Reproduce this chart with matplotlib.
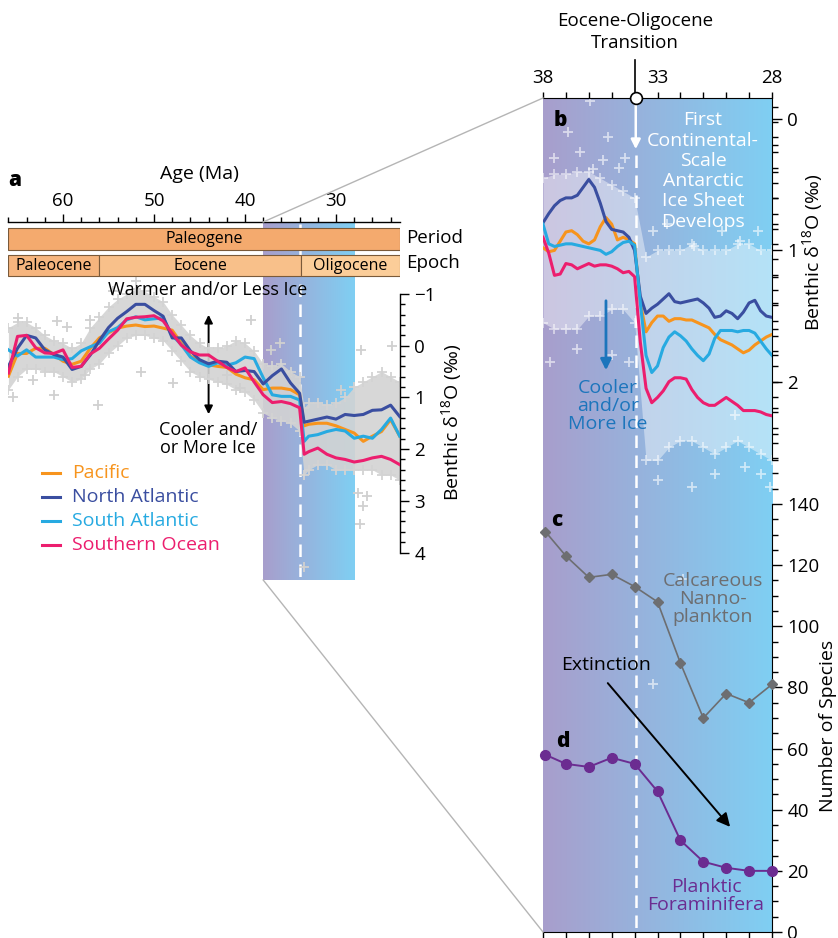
import numpy as np
import matplotlib
matplotlib.use("Agg")
import matplotlib.pyplot as plt
from matplotlib.colors import LinearSegmentedColormap
from matplotlib.patches import Rectangle
from matplotlib.lines import Line2D
from matplotlib.ticker import MultipleLocator, FixedLocator

plt.rcParams['font.family'] = ['Open Sans', 'DejaVu Sans']
plt.rcParams['mathtext.fontset'] = 'custom'
plt.rcParams['mathtext.rm'] = 'Open Sans'
plt.rcParams['mathtext.it'] = 'Open Sans:italic'

# ---------------- data ----------------
# Panel a: Cenozoic (66-23 Ma) benthic d18O, smoothed per basin
ages_a = [66, 65, 64, 63, 62, 61, 60, 59, 58, 57, 56, 55, 54, 53, 52, 51, 50, 49, 48, 47,
          46, 45, 44, 43, 42, 41, 40, 39, 38, 37, 36, 35, 34, 33.5, 33, 32, 31, 30, 29, 28,
          27, 26, 25, 24, 23]
pacific_a = [0.59, 0.15, 0.15, 0.05, 0.05, 0.17, 0.30, 0.36, 0.30, 0.05, -0.15, -0.25, -0.34, -0.38,
             -0.40, -0.37, -0.38, -0.34, -0.30, -0.05, 0.20, 0.30, 0.37, 0.40, 0.42, 0.55, 0.62, 0.66,
             0.85, 0.82, 0.82, 0.85, 0.95, 1.55, 1.52, 1.50, 1.50, 1.55, 1.62, 1.69, 1.85, 1.75, 1.66,
             1.43, 1.75]
natl_a = [0.40, 0.05, -0.20, -0.15, 0.08, 0.17, 0.22, 0.46, 0.40, 0.18, -0.10, -0.35, -0.53, -0.66,
          -0.80, -0.80, -0.68, -0.57, -0.15, -0.15, 0.10, 0.27, 0.35, 0.30, 0.32, 0.50, 0.48, 0.50,
          0.74, 0.58, 0.45, 0.72, 0.92, 1.48, 1.46, 1.42, 1.38, 1.42, 1.33, 1.35, 1.33, 1.25, 1.24,
          1.15, 1.37]
satl_a = [0.08, 0.20, 0.08, 0.22, 0.22, 0.22, 0.27, 0.25, 0.10, 0.02, -0.05, -0.27, -0.35, -0.50,
          -0.56, -0.50, -0.52, -0.54, -0.20, -0.02, 0.22, 0.33, 0.40, 0.33, 0.38, 0.33, 0.22, 0.25,
          0.62, 0.95, 0.98, 0.98, 1.05, 1.85, 1.75, 1.72, 1.66, 1.62, 1.65, 1.79, 1.75, 1.79, 1.62,
          1.40, 1.75]
so_a = [0.53, -0.18, -0.20, 0.04, 0.14, 0.15, 0.08, 0.42, 0.40, 0.16, 0.05, -0.13, -0.30, -0.52,
        -0.55, -0.56, -0.58, -0.48, -0.24, -0.01, 0.12, 0.18, 0.18, 0.30, 0.42, 0.50, 0.43, 0.70,
        0.95, 1.10, 1.08, 1.12, 1.20, 2.10, 2.05, 1.98, 2.10, 2.17, 2.20, 2.25, 2.22, 2.17, 2.14,
        2.20, 2.30]
# envelope of the individual measurements (grey crosses)
cloud_top_a = [-0.35, -0.45, -0.45, -0.35, -0.20, -0.10, -0.05, 0.05, -0.05, -0.35, -0.55, -0.75,
               -0.90, -1.00, -1.10, -1.05, -0.95, -0.85, -0.60, -0.40, -0.20, -0.05, 0.05, 0.05,
               0.00, -0.10, -0.05, 0.10, 0.35, 0.40, 0.35, 0.50, 0.60, 1.20, 1.10, 1.10, 1.15,
               1.10, 1.00, 0.80, 0.70, 0.60, 0.50, 0.60, 0.70]
cloud_bot_a = [0.85, 0.60, 0.45, 0.45, 0.50, 0.50, 0.60, 0.70, 0.65, 0.45, 0.35, 0.15, 0.00, -0.15,
               -0.20, -0.20, -0.15, -0.10, 0.10, 0.30, 0.50, 0.60, 0.65, 0.70, 0.75, 0.85, 0.90,
               1.05, 1.30, 1.40, 1.45, 1.50, 1.65, 2.50, 2.40, 2.30, 2.30, 2.40, 2.40, 2.40, 2.40,
               2.40, 2.50, 2.50, 2.60]
outlier_age_a = [56.1, 60.7, 59.6, 63.3, 64.9, 57.0, 57.6, 51.4, 47.9, 39.3, 42.0, 40.6, 35.1, 37.1,
                 36.2, 27.2, 23.9, 33.5, 27.6, 27.0, 27.4, 26.6, 65.5, 61.0, 54.5, 52.0, 29.4]
outlier_d18o_a = [1.14, -0.47, -0.37, 0.66, -0.54, -0.50, 0.56, 0.50, 0.72, -0.50, 0.56, 0.82, 0.57,
                  0.08, -0.05, 0.08, 0.01, 4.28, 2.85, 3.10, 3.45, 2.90, 1.00, 0.95, -1.05, -1.25, 0.85]

# Panel b: 38-28 Ma detail
ages_b = [38.0, 37.75, 37.5, 37.25, 37.0, 36.75, 36.5, 36.25, 36.0, 35.75, 35.5, 35.25, 35.0, 34.75,
          34.5, 34.25, 34.0, 33.75, 33.5, 33.25, 33.0, 32.75, 32.5, 32.25, 32.0, 31.75, 31.5,
          31.25, 31.0, 30.75, 30.5, 30.25, 30.0, 29.75, 29.5, 29.25, 29.0, 28.75, 28.5, 28.25, 28.0]
pacific_b = [0.98, 1.01, 1.00, 0.93, 0.86, 0.85, 0.88, 0.93, 0.95, 0.92, 0.82, 0.75, 0.80, 0.92,
             0.90, 0.92, 0.95, 1.40, 1.62, 1.55, 1.50, 1.50, 1.54, 1.52, 1.52, 1.53, 1.53, 1.55,
             1.57, 1.59, 1.64, 1.68, 1.70, 1.72, 1.75, 1.78, 1.76, 1.72, 1.69, 1.66, 1.64]
natl_b = [0.79, 0.72, 0.66, 0.62, 0.60, 0.60, 0.58, 0.52, 0.46, 0.52, 0.64, 0.78, 0.84, 0.85, 0.86,
          0.90, 1.00, 1.35, 1.48, 1.44, 1.41, 1.37, 1.33, 1.39, 1.40, 1.39, 1.38, 1.37, 1.40, 1.44,
          1.51, 1.50, 1.46, 1.48, 1.52, 1.47, 1.40, 1.38, 1.46, 1.50, 1.51]
satl_b = [0.80, 0.95, 0.97, 0.96, 0.95, 0.95, 0.96, 0.97, 0.98, 0.99, 1.00, 1.03, 1.01, 0.97, 0.94,
          0.93, 0.96, 1.40, 1.80, 1.93, 1.88, 1.74, 1.66, 1.62, 1.65, 1.69, 1.75, 1.80, 1.84, 1.79,
          1.67, 1.61, 1.61, 1.61, 1.62, 1.61, 1.61, 1.63, 1.69, 1.75, 1.80]
so_b = [0.90, 1.02, 1.19, 1.18, 1.10, 1.11, 1.14, 1.12, 1.10, 1.12, 1.11, 1.11, 1.12, 1.14, 1.17,
        1.16, 1.20, 1.70, 2.05, 2.16, 2.12, 2.07, 2.00, 1.97, 1.97, 1.98, 2.06, 2.12, 2.16, 2.18,
        2.18, 2.15, 2.12, 2.15, 2.18, 2.22, 2.22, 2.22, 2.23, 2.25, 2.26]
cloud_age_b = [38.0, 37.5, 37.0, 36.5, 36.0, 35.5, 35.0, 34.5, 34.0, 33.5, 33.0, 32.5, 32.0, 31.5,
               31.0, 30.5, 30.0, 29.5, 29.0, 28.5, 28.0]
cloud_top_b = [0.45, 0.42, 0.42, 0.40, 0.40, 0.45, 0.50, 0.55, 0.60, 1.05, 1.00, 1.00, 1.00, 0.95,
               1.00, 1.00, 1.00, 0.95, 0.95, 1.00, 1.00]
cloud_bot_b = [1.55, 1.60, 1.60, 1.60, 1.50, 1.50, 1.45, 1.45, 1.55, 2.60, 2.60, 2.50, 2.45, 2.45,
               2.50, 2.55, 2.50, 2.45, 2.50, 2.55, 2.60]
outlier_age_b = [36.9, 35.15, 35.4, 34.7, 35.95, 35.8, 33.2, 31.4, 29.4, 37.5, 36.4, 34.4, 32.6,
                 28.6, 37.7, 36.5, 35.0, 34.25, 33.0, 31.5, 30.5, 29.2, 28.5, 28.1, 33.2, 31.9,
                 30.2, 29.6]
outlier_d18o_b = [0.10, 0.14, 0.31, 0.37, -0.14, 0.38, 0.85, 0.97, 0.93, 0.30, 0.25, 0.30, 0.80,
                  0.85, 1.85, 1.75, 1.80, 1.85, 2.75, 2.80, 2.70, 2.65, 2.70, 2.80, 4.30, 3.50,
                  0.85, 2.25]

# Panels c, d: number of species
ages_sp = [37.9, 37, 36, 35, 34, 33, 32, 31, 30, 29, 28]
nannoplankton = [131, 123, 116, 117, 113, 108, 88, 70, 78, 75, 81]
foraminifera = [58, 55, 54, 57, 55, 46, 30, 23, 21, 20, 20]

EOT = 33.95
epoch_names = ['Paleocene', 'Eocene', 'Oligocene']
epoch_bounds = [66, 56, 33.9, 23]

# ---------------- style ----------------
C_PAC = '#f7941d'
C_NA = '#3a4ea0'
C_SA = '#27aae1'
C_SO = '#ec1e6e'
C_NANNO = '#6d6e71'
C_FORAM = '#6b2c91'
C_BLUE = '#1c75bc'
GRAD = LinearSegmentedColormap.from_list('eot', ['#a89ecc', '#7fcff3'])
grad_img = np.linspace(0, 1, 256)[None, :]

W, H = 838, 938
fig = plt.figure(figsize=(W / 100, H / 100), dpi=100)


def fx(px):
    return px / W


def fy(py):
    return 1 - py / H


def ftext(px, py, s, **kw):
    fig.text(fx(px), fy(py), s, **kw)


FS = 13.5

# ---------------- panel a ----------------
ax_l, ax_r, ax_t, ax_b = 8.4, 399.7, 222, 580
axA = fig.add_axes([fx(ax_l), fy(ax_b), (ax_r - ax_l) / W, (ax_b - ax_t) / H])
ya_top = (ax_t - 345.7) / 51.7
ya_bot = (ax_b - 345.7) / 51.7
axA.imshow(grad_img, cmap=GRAD, extent=(38, 28, ya_bot, ya_top), aspect='auto', zorder=0,
           interpolation='bilinear')
axA.set_xlim(66, 23)
axA.set_ylim(ya_bot, ya_top)
axA.patch.set_alpha(0)

# time-scale bars
py2v = lambda py: (py - 345.7) / 51.7
axA.add_patch(Rectangle((23, py2v(228)), 43, py2v(250) - py2v(228), facecolor='#f4aa6e',
                        edgecolor='#7a5a3a', lw=0.8, zorder=5))
axA.text(44.5, py2v(239), 'Paleogene', ha='center', va='center', fontsize=11.5, zorder=6)
ep_cols = ['#f6b57e', '#f8c08a', '#fbcd99']
for i, name in enumerate(epoch_names):
    x0, x1 = epoch_bounds[i], epoch_bounds[i + 1]
    axA.add_patch(Rectangle((x1, py2v(255)), x0 - x1, py2v(276) - py2v(255), facecolor=ep_cols[i],
                            edgecolor='#7a5a3a', lw=0.8, zorder=5))
    axA.text((x0 + x1) / 2, py2v(266), name, ha='center', va='center', fontsize=11.5, zorder=6)

# dashed EOT line
axA.plot([EOT, EOT], [py2v(224), ya_bot], color='white', lw=1.8, ls=(0, (5, 3)), zorder=1)
# warmer/cooler arrow
axA.annotate('', xy=(44, py2v(312)), xytext=(44, py2v(417)),
             arrowprops=dict(arrowstyle='<|-|>', color='black', lw=1.4, mutation_scale=12),
             zorder=1)
# measurement cloud
axA.fill_between(ages_a, cloud_top_a, cloud_bot_a, color='#d3d3d3', alpha=0.9, lw=0, zorder=2)
axA.scatter(ages_a + ages_a, cloud_top_a + cloud_bot_a, marker='+', s=55, color='#d3d3d3',
            lw=1.3, zorder=2)
axA.scatter(outlier_age_a, outlier_d18o_a, marker='+', s=60, color='#d0d0d0', lw=1.3, zorder=2)
for ys, c in [(pacific_a, C_PAC), (satl_a, C_SA), (natl_a, C_NA), (so_a, C_SO)]:
    axA.plot(ages_a, ys, color=c, lw=2.2, zorder=4, solid_joinstyle='round')

for s in ['left', 'bottom']:
    axA.spines[s].set_visible(False)
axA.spines['right'].set_bounds(-1, 4)
axA.spines['top'].set_linewidth(1)
axA.spines['right'].set_linewidth(1)
axA.xaxis.set_ticks_position('top')
axA.set_xticks([60, 50, 40, 30])
axA.xaxis.set_minor_locator(MultipleLocator(2))
axA.tick_params(axis='x', which='major', direction='out', length=6, width=1, labelsize=FS, pad=3)
axA.tick_params(axis='x', which='minor', direction='out', length=3.5, width=1)
axA.yaxis.set_ticks_position('right')
axA.set_yticks([-1, 0, 1, 2, 3, 4])
axA.yaxis.set_minor_locator(FixedLocator(np.round(np.arange(-1, 4.01, 0.2), 2)))
axA.tick_params(axis='y', which='major', direction='out', length=6.5, width=1, labelsize=FS, pad=4)
axA.tick_params(axis='y', which='minor', direction='out', length=3.8, width=1)

# ---------------- panel b / c / d ----------------
bl, br, bt, bb = 543, 772, 98, 932
rect_b = [fx(bl), fy(bb), (br - bl) / W, (bb - bt) / H]
axBg = fig.add_axes(rect_b, label='bg')
axBg.imshow(grad_img, cmap=GRAD, extent=(0, 1, 0, 1), aspect='auto', interpolation='bilinear')
axBg.set_xlim(0, 1)
axBg.set_ylim(0, 1)
axBg.axis('off')

yb_top = (bt - 119.1) / 131.3
yb_bot = (bb - 119.1) / 131.3
axB = fig.add_axes(rect_b, label='benthic', facecolor='none')
axB.set_xlim(38, 28)
axB.set_ylim(yb_bot, yb_top)
axB.fill_between(cloud_age_b, cloud_top_b, cloud_bot_b, color='white', alpha=0.42, lw=0, zorder=1)
axB.scatter(cloud_age_b + cloud_age_b, cloud_top_b + cloud_bot_b, marker='+', s=55, color='white',
            alpha=0.55, lw=1.3, zorder=1)
axB.scatter(outlier_age_b, outlier_d18o_b, marker='+', s=60, color='white', alpha=0.6, lw=1.3,
            zorder=1)
axB.plot([EOT, EOT], [0.27, yb_bot], color='white', lw=1.8, ls=(0, (5, 3)), zorder=1.5)
axB.annotate('', xy=(EOT, 0.25), xytext=(EOT, yb_top + 0.03),
             arrowprops=dict(arrowstyle='-|>', color='white', lw=1.8, mutation_scale=14), zorder=2)
for ys, c in [(pacific_b, C_PAC), (natl_b, C_NA), (satl_b, C_SA), (so_b, C_SO)]:
    axB.plot(ages_b, ys, color=c, lw=2.2, zorder=4, solid_joinstyle='round')
axB.plot([EOT], [yb_top], 'o', ms=8.5, mfc='white', mec='black', mew=1.2, clip_on=False, zorder=10)
axB.annotate('', xy=(35.25, (373 - 119.1) / 131.3), xytext=(35.25, (298 - 119.1) / 131.3),
             arrowprops=dict(arrowstyle='-|>', color=C_BLUE, lw=2, mutation_scale=16), zorder=3)

for s in ['left', 'bottom']:
    axB.spines[s].set_visible(False)
axB.spines['right'].set_bounds(yb_top, 2.6)
axB.xaxis.set_ticks_position('top')
axB.set_xticks([38, 33, 28])
axB.xaxis.set_minor_locator(MultipleLocator(1))
axB.tick_params(axis='x', which='both', direction='out', length=4, width=1, labelsize=FS, pad=4)
axB.yaxis.set_ticks_position('right')
axB.set_yticks([0, 1, 2])
axB.yaxis.set_minor_locator(FixedLocator(np.round(np.arange(0.2, 2.61, 0.2), 2)))
axB.tick_params(axis='y', which='major', direction='out', length=7, width=1, labelsize=FS, pad=4)
axB.tick_params(axis='y', which='minor', direction='out', length=4, width=1)

axS = fig.add_axes(rect_b, label='species', facecolor='none')
axS.set_xlim(38, 28)
axS.set_ylim(0, (bb - bt) / 3.057)
axS.plot(ages_sp, nannoplankton, color=C_NANNO, lw=1.2, marker='D', ms=5.5, zorder=4,
         clip_on=False)
axS.plot(ages_sp, foraminifera, color=C_FORAM, lw=1.4, marker='o', ms=7, zorder=4, clip_on=False)
axS.annotate('', xy=(29.75, (bb - 829) / 3.057), xytext=(35.25, (bb - 681) / 3.057),
             arrowprops=dict(arrowstyle='-|>', color='black', lw=1.4, mutation_scale=20), zorder=5)
for s in ['left', 'top']:
    axS.spines[s].set_visible(False)
axS.spines['right'].set_bounds(0, 140)
axS.yaxis.set_ticks_position('right')
axS.set_yticks(np.arange(0, 141, 20))
axS.yaxis.set_minor_locator(MultipleLocator(5))
axS.tick_params(axis='y', which='major', direction='out', length=7, width=1, labelsize=FS, pad=4)
axS.tick_params(axis='y', which='minor', direction='out', length=4, width=1)
axS.xaxis.set_ticks_position('bottom')
axS.xaxis.set_major_locator(MultipleLocator(1))
axS.tick_params(axis='x', which='both', direction='out', length=4, width=1, labelbottom=False)

# ---------------- texts ----------------
ftext(15, 180, 'a', fontsize=15, fontweight='heavy', ha='center', va='center')
ftext(199, 174, 'Age (Ma)', fontsize=14, ha='center', va='center')
ftext(406, 238, 'Period', fontsize=FS, ha='left', va='center')
ftext(406, 263, 'Epoch', fontsize=FS, ha='left', va='center')
ftext(208, 290, 'Warmer and/or Less Ice', fontsize=13, ha='center', va='center')
ftext(208, 439, 'Cooler and/\nor More Ice', fontsize=13, ha='center', va='center',
      linespacing=1.05)
ftext(452, 422, 'Benthic δ$^{18}$O (‰)', fontsize=14, rotation=90, ha='center', va='center')
leg = [('Pacific', C_PAC), ('North Atlantic', C_NA), ('South Atlantic', C_SA),
       ('Southern Ocean', C_SO)]
for i, (name, c) in enumerate(leg):
    yy = 473 + i * 24
    fig.add_artist(Line2D([fx(42), fx(60)], [fy(yy), fy(yy)], color=c, lw=2.2))
    ftext(72, yy, name, fontsize=14, color=c, ha='left', va='center')

ftext(635, 32, 'Eocene-Oligocene\nTransition', fontsize=FS, ha='center', va='center',
      linespacing=1.3)
fig.add_artist(Line2D([fx(635), fx(635)], [fy(60), fy(92)], color='black', lw=1.2))
ftext(560, 121, 'b', fontsize=15, fontweight='heavy', ha='center', va='center')
ftext(557, 521, 'c', fontsize=15, fontweight='heavy', ha='center', va='center')
ftext(563, 741, 'd', fontsize=15, fontweight='heavy', ha='center', va='center')
ftext(703, 171, 'First\nContinental-\nScale\nAntarctic\nIce Sheet\nDevelops', fontsize=14,
      color='white', ha='center', va='center', linespacing=1.16)
ftext(608, 406, 'Cooler\nand/or\nMore Ice', fontsize=14, color=C_BLUE, ha='center', va='center',
      linespacing=1.0)
ftext(713, 599, 'Calcareous\nNanno-\nplankton', fontsize=14, color=C_NANNO, ha='center',
      va='center', linespacing=1.02)
ftext(606, 665, 'Extinction', fontsize=14, ha='center', va='center')
ftext(706, 896, 'Planktic\nForaminifera', fontsize=14, color=C_FORAM, ha='center', va='center',
      linespacing=1.02)
ftext(813, 252, 'Benthic δ$^{18}$O (‰)', fontsize=14, rotation=90, ha='center', va='center')
ftext(828, 726, 'Number of Species', fontsize=14, rotation=90, ha='center', va='center')

# zoom connector lines
fig.add_artist(Line2D([fx(263.2), fx(543)], [fy(222), fy(98)], color='#b5b5b5', lw=1, zorder=0.5))
fig.add_artist(Line2D([fx(263.2), fx(543)], [fy(580), fy(932)], color='#b5b5b5', lw=1, zorder=0.5))

fig.savefig('out.png', dpi=100)
